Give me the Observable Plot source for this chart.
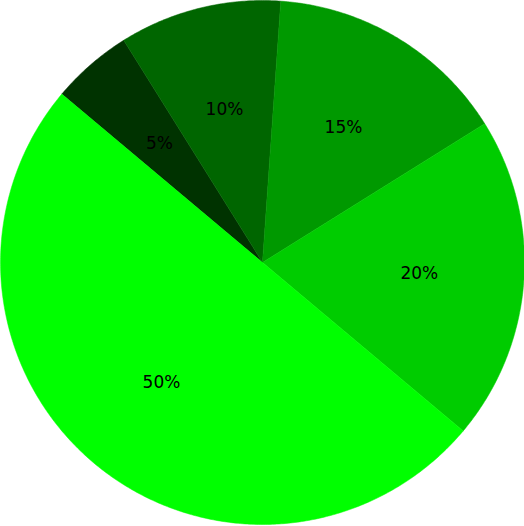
<!DOCTYPE html>
<html>
<head>
<meta charset="utf-8">
<script src="https://cdn.jsdelivr.net/npm/d3@7"></script>
<script src="https://cdn.jsdelivr.net/npm/@observablehq/plot@0.6"></script>
<style>
  html, body { margin: 0; padding: 0; background: #fff; }
  #chart { width: 524px; height: 526px; }
</style>
</head>
<body>
<div id="chart"></div>
<script>
const labels = ["5%", "10%", "15%", "20%", "50%"];
const values = [5, 10, 15, 20, 50];
const colors = ["#003300", "#006600", "#009900", "#00cc00", "#00ff00"];

const startDeg = -50;
const pie = d3.pie().sort(null).value(d => d.value)
  .startAngle(startDeg * Math.PI / 180)
  .endAngle(startDeg * Math.PI / 180 + 2 * Math.PI);
const slices = pie(labels.map((l, i) => ({label: l, value: values[i], color: colors[i]})));

const pts = [];
slices.forEach(s => {
  pts.push({label: s.data.label, x: 0, y: 0});
  const n = Math.max(2, Math.ceil((s.endAngle - s.startAngle) / (Math.PI / 360)));
  for (let k = 0; k <= n; k++) {
    const a = s.startAngle + (s.endAngle - s.startAngle) * k / n;
    pts.push({label: s.data.label, x: Math.sin(a), y: -Math.cos(a)});
  }
  pts.push({label: s.data.label, x: 0, y: 0});
});
const labelPts = slices.map(s => {
  const a = (s.startAngle + s.endAngle) / 2;
  return {label: s.data.label, x: 0.6 * Math.sin(a), y: -0.6 * Math.cos(a)};
});

const chart = Plot.plot({
  width: 524,
  height: 526,
  margin: 0,
  style: {fontFamily: "DejaVu Sans, sans-serif", background: "white"},
  x: {domain: [-1, 1], range: [0, 524], axis: null},
  y: {domain: [-1, 1], range: [0, 524], axis: null},
  color: {domain: labels, range: colors},
  marks: [
    Plot.line(pts, {x: "x", y: "y", z: "label", fill: "label", stroke: "label", strokeWidth: 0.5, curve: "linear"}),
    Plot.text(labelPts, {x: "x", y: "y", text: "label", fill: "black", fontSize: 17, fontFamily: "DejaVu Sans"})
  ]
});
document.getElementById("chart").appendChild(chart);
</script>
</body>
</html>
